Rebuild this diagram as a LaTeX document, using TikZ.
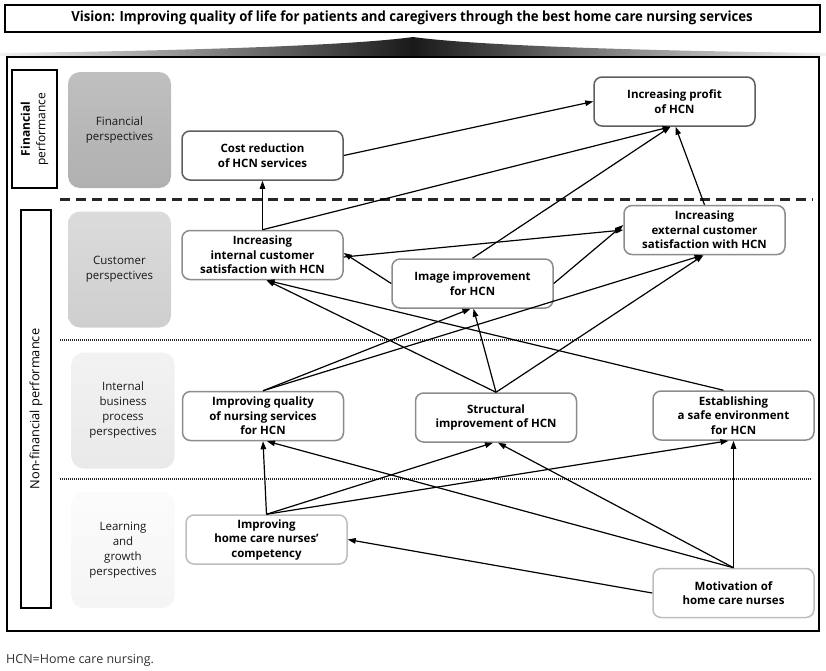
\documentclass[tikz,border=0pt]{standalone}
\usepackage{fontspec}
\setmainfont{Open Sans}
\usetikzlibrary{arrows.meta}
\definecolor{bdark}{HTML}{5E5E5E}
\definecolor{bmid}{HTML}{8C8C8C}
\definecolor{blight}{HTML}{BDBDBD}
\tikzset{
  objbox/.style={draw=bmid, rounded corners=8pt, line width=1.5pt, fill=white,
    minimum width=161pt, minimum height=49pt, align=center, inner sep=2pt,
    font=\bfseries\fontsize{11.5}{14.5}\selectfont},
  perbox/.style={rounded corners=12pt, minimum width=103pt, minimum height=116pt,
    align=center, font=\fontsize{11.5}{15}\selectfont, inner sep=2pt, text=black!90},
  conn/.style={line width=1.2pt, -{Triangle[length=8pt,width=5.5pt]}},
  lab/.style={draw, line width=2.5pt, fill=white},
}
\begin{document}
\begin{tikzpicture}[x=1pt,y=-1pt]
\useasboundingbox (0,0) rectangle (826,670);
% vision
\node[draw, line width=2pt, minimum width=815pt, minimum height=27pt, inner sep=0pt] (vision) at (412,18)
  {\scalebox{0.94}[1]{\bfseries\fontsize{14}{16}\selectfont Vision: Improving quality of life for patients and caregivers through the best home care nursing services}};
% wedge
\shade[left color=gray!10, right color=gray!10, middle color=black!90]
  (0,53) .. controls (250,50) and (370,43) .. (413,37) .. controls (456,43) and (576,50) .. (826,53) -- (826,56) -- (0,56) -- cycle;
% frame
\draw[line width=2.5pt] (7,57) rectangle (819,631);
% left labels
\node[lab, minimum width=45pt, minimum height=118pt, inner sep=0pt] (finlab) at (34.5,129) {};
\node[rotate=90, align=center, font=\fontsize{12}{15.5}\selectfont] at (finlab.center) {\textbf{Financial}\\performance};
\node[lab, minimum width=30pt, minimum height=398pt, inner sep=0pt] (nflab) at (36,409) {};
\node[rotate=90, font=\fontsize{12.8}{14}\selectfont] at (nflab.center) {Non-financial performance};
% perspective boxes
\node[perbox, top color=gray!50, bottom color=gray!62] (pfin) at (119.5,130) {Financial\\perspectives};
\node[perbox, top color=gray!28, bottom color=gray!38] (pcus) at (119.5,269.5) {Customer\\perspectives};
\node[perbox, top color=gray!10, bottom color=gray!17] (pint) at (123,410.5) {Internal\\business\\process\\perspectives};
\node[perbox, top color=gray!3, bottom color=gray!8] (plea) at (123,550) {Learning\\and\\growth\\perspectives};
% separators
\draw[line width=3pt, dash pattern=on 10pt off 6pt, black!85] (60,199) -- (813,199);
\draw[line width=2.2pt, dash pattern=on 1.2pt off 0.8pt, black!85] (60,340) -- (811,340);
\draw[line width=2.2pt, dash pattern=on 1.2pt off 0.8pt, black!85] (60,479) -- (811,479);
% objective nodes
\node[objbox, draw=bdark] (cost) at (262.5,155.5) {Cost reduction\\of HCN services};
\node[objbox, draw=bdark] (profit) at (674.5,101.5) {Increasing profit\\of HCN};
\node[objbox] (intc) at (262.5,255) {Increasing\\internal customer\\satisfaction with HCN};
\node[objbox] (extc) at (704.5,230) {Increasing\\external customer\\satisfaction with HCN};
\node[objbox] (image) at (472.5,283.5) {Image improvement\\for HCN};
\node[objbox] (quality) at (263,416) {Improving quality\\of nursing services\\for HCN};
\node[objbox] (struct) at (496,417.5) {Structural\\improvement of HCN};
\node[objbox] (safe) at (733.5,415.5) {Establishing\\a safe environment\\for HCN};
\node[objbox, draw=blight] (comp) at (266.5,539.5) {Improving\\home care nurses'\\competency};
\node[objbox, draw=blight] (motiv) at (733.5,593) {Motivation of\\home care nurses};
% connectors
\draw[conn] (cost.east) -- (profit.west);
\draw[conn] (intc.north) -- (cost.south);
\draw[conn] (intc.north) -- ([xshift=-4pt]profit.south);
\draw[conn] (image.north) -- ([xshift=-4pt]profit.south);
\draw[conn] (extc.north) -- ([xshift=1pt]profit.south);
\draw[conn] ([yshift=-2pt]intc.east) -- (extc.west);
\draw[conn] (image.west) -- ([yshift=2pt]intc.east);
\draw[conn] (image.east) -- ([yshift=5pt]extc.west);
\draw[conn] (struct.north) -- ([xshift=4pt]intc.south);
\draw[conn] ([xshift=-10pt]safe.north) -- ([xshift=4pt]intc.south);
\draw[conn] (quality.north) -- ([xshift=-2pt]image.south);
\draw[conn] (quality.north) -- ([xshift=-2pt]extc.south);
\draw[conn] (struct.north) -- ([xshift=1pt]image.south);
\draw[conn] (struct.north) -- ([xshift=-1pt]extc.south);
\draw[conn] (comp.north) -- (quality.south);
\draw[conn] (comp.north) -- ([xshift=-3pt]struct.south);
\draw[conn] (comp.north) -- ([xshift=-5pt]safe.south);
\draw[conn] (motiv.north) -- (safe.south);
\draw[conn] (motiv.north) -- ([xshift=2pt]struct.south);
\draw[conn] (motiv.north) -- ([xshift=4pt]quality.south);
\draw[conn] (motiv.west) -- (comp.east);
% footer
\node[anchor=west, font=\fontsize{12.5}{14}\selectfont, text=black!80, inner sep=0pt] (foot) at (6,660) {HCN=Home care nursing.};
\end{tikzpicture}
\end{document}
